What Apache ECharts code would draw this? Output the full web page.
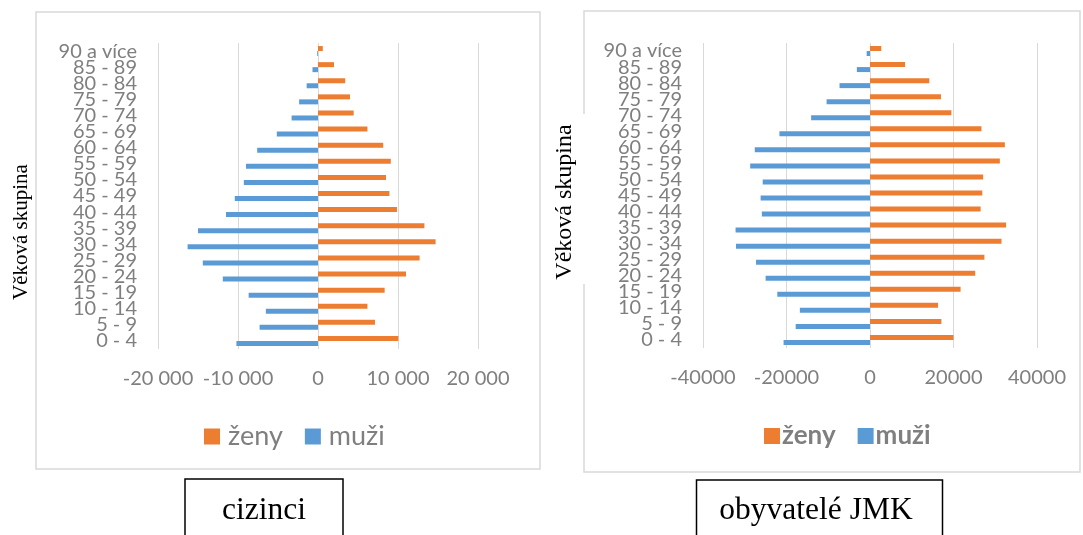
<!DOCTYPE html>
<html><head><meta charset="utf-8">
<script src="https://cdn.jsdelivr.net/npm/echarts@6/dist/echarts.min.js"></script>
<style>html,body{margin:0;padding:0;background:#fff}#c{width:1083px;height:535px}</style>
</head><body><div id="c"></div>
<script>
// Age groups, bottom to top
const ageGroups = ['0 - 4','5 - 9','10 - 14','15 - 19','20 - 24','25 - 29','30 - 34','35 - 39','40 - 44','45 - 49','50 - 54','55 - 59','60 - 64','65 - 69','70 - 74','75 - 79','80 - 84','85 - 89','90 a více'];
// cizinci (foreigners)
const ciziZeny = [10040, 7120, 6180, 8330, 11000, 12700, 14700, 13300, 9870, 8930, 8500, 9100, 8150, 6180, 4460, 4000, 3400, 2000, 600];
const ciziMuzi = [-10200, -7300, -6520, -8670, -11900, -14400, -16300, -15000, -11500, -10400, -9270, -9000, -7600, -5150, -3300, -2360, -1420, -690, -100];
// obyvatelé JMK
const jmkZeny = [20000, 17100, 16300, 21700, 25200, 27400, 31500, 32600, 26500, 26900, 27100, 31100, 32300, 26700, 19500, 17000, 14200, 8400, 2700];
const jmkMuzi = [-20700, -17800, -16800, -22200, -25000, -27300, -32100, -32200, -25900, -26200, -25700, -28700, -27600, -21700, -14100, -10400, -7300, -3150, -800];
// axis ranges / ticks
const ciziTicks = [-20000, -10000, 0, 10000, 20000];
const jmkTicks = [-40000, -20000, 0, 20000, 40000];
const seriesNames = ['ženy', 'muži'];
const captions = ['cizinci', 'obyvatelé JMK'];
const axisTitle = 'Věková skupina';

const ORANGE = '#ED7D31', BLUE = '#5B9BD5', GRAY = '#7f7f7f', GRID = '#d9d9d9';
const FONT = 'Lato, "Open Sans", sans-serif';
const SERIF = '"Liberation Serif", "Times New Roman", serif';

function fmtSpace(v){
  const s = String(Math.abs(v)).replace(/\B(?=(\d{3})+(?!\d))/g, ' ');
  return (v < 0 ? '-' : '') + s;
}

function xAxisFor(gridIndex, ticks, fmt){
  return {
    type: 'value', gridIndex,
    min: ticks[0], max: ticks[ticks.length-1], interval: ticks[1]-ticks[0],
    axisLine: {show:false}, axisTick: {show:false},
    splitLine: {show:true, lineStyle:{color:GRID, width:1}},
    axisLabel: {color:GRAY, fontFamily:FONT, fontSize:20, margin:20, formatter: fmt}
  };
}
function yAxisFor(gridIndex){
  return {
    type: 'category', gridIndex, data: ageGroups,
    axisLine: {show:false}, axisTick: {show:false},
    axisLabel: {color:GRAY, fontFamily:FONT, fontSize:20, margin:21, interval:0, lineHeight:16}
  };
}
function barSeries(name, data, color, idx){
  return {
    name, type:'bar', data, xAxisIndex: idx, yAxisIndex: idx,
    barWidth: 5, barGap: '0%', itemStyle:{color}, animation:false,
    emphasis:{disabled:true}
  };
}

const chart = echarts.init(document.getElementById('c'), null, {renderer:'canvas'});
chart.setOption({
  animation: false,
  backgroundColor: '#fff',
  grid: [
    {left:158, width:320, top:43, height:306},
    {left:703, width:334, top:43, height:305}
  ],
  xAxis: [
    xAxisFor(0, ciziTicks, v => fmtSpace(v)),
    xAxisFor(1, jmkTicks, v => String(v))
  ],
  yAxis: [yAxisFor(0), yAxisFor(1)],
  legend: [
    {data: seriesNames, left:199, top:418, icon:'rect', itemWidth:16, itemHeight:16, itemGap:22,
     selectedMode:false, textStyle:{color:GRAY, fontFamily:FONT, fontSize:27, padding:[0,0,0,3]}},
    {data: seriesNames, left:759, top:418, icon:'rect', itemWidth:16, itemHeight:16, itemGap:22,
     selectedMode:false, textStyle:{color:GRAY, fontFamily:FONT, fontSize:26, fontWeight:'bold', padding:[0,0,0,-3]}}
  ],
  series: [
    barSeries(seriesNames[0], ciziZeny, ORANGE, 0),
    barSeries(seriesNames[1], ciziMuzi, BLUE, 0),
    barSeries(seriesNames[0], jmkZeny, ORANGE, 1),
    barSeries(seriesNames[1], jmkMuzi, BLUE, 1)
  ],
  graphic: [
    {type:'rect', silent:true, z:-10, shape:{x:36, y:12, width:504, height:457},
     style:{fill:null, stroke:GRID, lineWidth:1.5}},
    {type:'rect', silent:true, z:-10, shape:{x:584, y:11, width:496, height:461},
     style:{fill:null, stroke:GRID, lineWidth:1.5}},
    {type:'rect', silent:true, z:-5, shape:{x:548, y:114, width:40, height:170}, style:{fill:'#fff'}},
    {type:'text', silent:true, x:21, y:232, rotation:Math.PI/2,
     style:{text:axisTitle, font:'21px ' + SERIF, fill:'#000', align:'center', verticalAlign:'middle'}},
    {type:'text', silent:true, x:565, y:202, rotation:Math.PI/2,
     style:{text:axisTitle, font:'24px ' + SERIF, fill:'#000', align:'center', verticalAlign:'middle'}},
    {type:'rect', silent:true, shape:{x:185, y:479, width:158, height:70},
     style:{fill:'#fff', stroke:'#000', lineWidth:1.5}},
    {type:'text', silent:true, x:264, y:511,
     style:{text:captions[0], font:'31.5px ' + SERIF, fill:'#000', align:'center', verticalAlign:'middle'}},
    {type:'rect', silent:true, shape:{x:696.5, y:480, width:246, height:70},
     style:{fill:'#fff', stroke:'#000', lineWidth:1.5}},
    {type:'text', silent:true, x:816, y:511,
     style:{text:captions[1], font:'31.5px ' + SERIF, fill:'#000', align:'center', verticalAlign:'middle'}}
  ]
});
</script></body></html>
